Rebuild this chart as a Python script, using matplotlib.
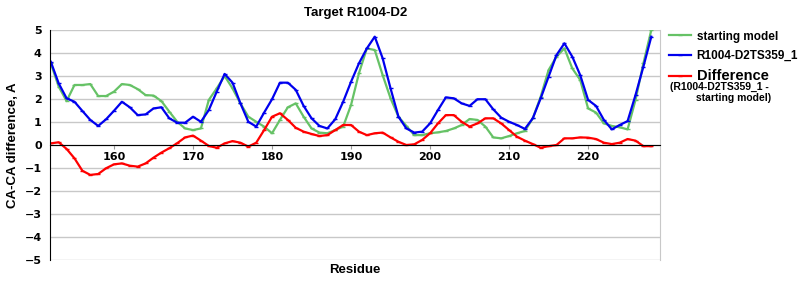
import matplotlib
matplotlib.use("Agg")
import matplotlib.pyplot as plt

residues = list(range(152, 229))

starting_model = [3.55, 2.54, 1.91, 2.61, 2.61, 2.65, 2.13, 2.13, 2.32, 2.65,
                  2.61, 2.43, 2.17, 2.15, 1.91, 1.45, 1.01, 0.72, 0.65, 0.72,
                  1.96, 2.46, 3.00, 2.46, 1.81, 1.23, 1.01, 0.80, 0.51, 1.09,
                  1.64, 1.81, 1.23, 0.72, 0.54, 0.51, 0.65, 0.80, 1.74, 3.12,
                  4.20, 4.13, 3.04, 2.03, 1.23, 0.83, 0.43, 0.43, 0.51, 0.55,
                  0.61, 0.72, 0.87, 1.13, 1.09, 0.80, 0.33, 0.29, 0.39, 0.51,
                  0.61, 1.16, 2.10, 3.26, 3.84, 4.20, 3.33, 2.83, 1.59, 1.41,
                  0.94, 0.83, 0.77, 0.68, 1.96, 3.55, 5.00]

model_ts359 = [3.62, 2.68, 2.03, 1.88, 1.48, 1.09, 0.83, 1.12, 1.49, 1.88,
               1.64, 1.30, 1.33, 1.59, 1.64, 1.16, 0.97, 0.97, 1.23, 1.01,
               1.52, 2.32, 3.09, 2.71, 1.81, 1.01, 0.80, 1.41, 1.99, 2.71,
               2.71, 2.40, 1.70, 1.16, 0.83, 0.72, 1.12, 1.88, 2.75, 3.55,
               4.20, 4.71, 3.77, 2.46, 1.23, 0.72, 0.54, 0.58, 0.94, 1.52,
               2.07, 2.03, 1.81, 1.70, 1.99, 1.99, 1.55, 1.19, 1.01, 0.87,
               0.70, 1.16, 2.03, 2.97, 3.91, 4.42, 3.84, 3.04, 1.96, 1.70,
               1.09, 0.68, 0.87, 1.04, 2.17, 3.41, 4.71]

difference = [0.07, 0.12, -0.17, -0.58, -1.12, -1.30, -1.26, -1.01, -0.84, -0.80,
              -0.90, -0.94, -0.80, -0.55, -0.33, -0.14, 0.08, 0.33, 0.41, 0.19,
              -0.04, -0.12, 0.07, 0.17, 0.10, -0.07, 0.10, 0.65, 1.23, 1.38,
              1.09, 0.75, 0.58, 0.48, 0.39, 0.43, 0.65, 0.87, 0.87, 0.58,
              0.43, 0.51, 0.54, 0.33, 0.14, 0.00, 0.03, 0.22, 0.51, 0.94,
              1.30, 1.30, 1.01, 0.80, 0.94, 1.16, 1.16, 0.94, 0.65, 0.36,
              0.19, 0.04, -0.12, -0.05, 0.00, 0.29, 0.29, 0.33, 0.32, 0.26,
              0.10, 0.04, 0.10, 0.26, 0.19, -0.05, -0.05]

x_ticks = [160, 170, 180, 190, 200, 210, 220]
y_ticks = list(range(-5, 6))

fig = plt.figure(figsize=(8, 3), dpi=100)
ax = fig.add_axes([0.0625, 0.1333, 0.7625, 0.7667])

green = "#66c266"
blue = "#0000ee"
red = "#ff0000"
mk = dict(marker="_", markersize=3, markeredgewidth=1)
ax.plot(residues, starting_model, color=green, lw=1.6, label="starting model", **mk)
ax.plot(residues, model_ts359, color=blue, lw=1.6, label="R1004-D2TS359_1", **mk)
ax.plot(residues, difference, color=red, lw=1.6, label="Difference", **mk)

ax.set_xlim(151.9, 229.1)
ax.set_ylim(-5, 5)
ax.set_yticks(y_ticks)
ax.set_xticks(x_ticks)
ax.yaxis.grid(True, color="#c8c8c8", lw=1)
ax.set_axisbelow(True)

ax.spines["bottom"].set_position(("data", 0))
ax.spines["bottom"].set_color("black")
ax.spines["left"].set_color("black")
ax.spines["right"].set_color("#c8c8c8")
ax.spines["top"].set_visible(False)
ax.tick_params(axis="x", length=3, color="#999999", pad=2, labelsize=8)
ax.tick_params(axis="y", length=0, pad=6, labelsize=8)
for lab in ax.get_xticklabels() + ax.get_yticklabels():
    lab.set_fontweight("bold")

arial = "Liberation Sans"
fig.text(0.444, 0.958, "Target R1004-D2", ha="center", va="center",
         fontsize=9.5, fontweight="bold", family=arial)
fig.text(0.444, 0.1, "Residue", ha="center", va="center",
         fontsize=9.5, fontweight="bold", family=arial)
ax.set_ylabel("CA-CA difference, A", fontsize=9.5, fontweight="bold",
              family=arial, labelpad=4)

# legend sits outside the axes, right of the plot
leg = ax.legend(loc="upper left", bbox_to_anchor=(0.836, 0.898),
                bbox_transform=fig.transFigure, frameon=False,
                borderpad=0, borderaxespad=0,
                handlelength=1.9, handletextpad=0.45, labelspacing=0.6,
                prop={"weight": "bold", "size": 8.5, "family": arial})
leg.get_texts()[2].set_fontsize(10.5)
fig.text(0.837, 0.727, "(R1004-D2TS359_1 -\n         starting model)", ha="left",
         va="top", fontsize=7.5, fontweight="bold", family=arial, linespacing=1.1)

fig.savefig("out.png", dpi=100)
